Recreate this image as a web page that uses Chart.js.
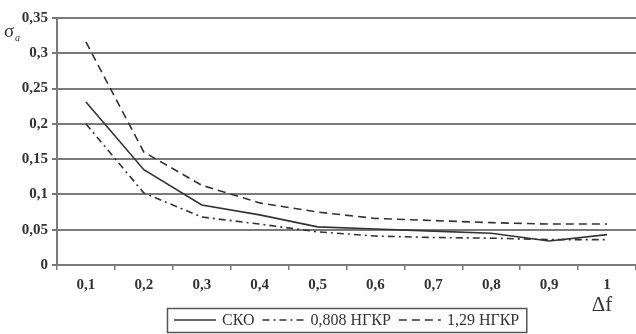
<!DOCTYPE html>
<html>
<head>
<meta charset="utf-8">
<script src="https://cdn.jsdelivr.net/npm/chart.js@4"></script>
<style>
  html, body { margin: 0; padding: 0; background: #fff; }
  canvas { display: block; }
</style>
</head>
<body>
<canvas id="sigmaChart" width="636" height="334"></canvas>
<script>
"use strict";

const labels = ["0,1", "0,2", "0,3", "0,4", "0,5", "0,6", "0,7", "0,8", "0,9", "1"];
const sko = [0.231, 0.135, 0.085, 0.071, 0.054, 0.051, 0.048, 0.045, 0.034, 0.043];
const ngkr808 = [0.200, 0.102, 0.068, 0.058, 0.047, 0.041, 0.039, 0.038, 0.036, 0.036];
const ngkr129 = [0.316, 0.160, 0.113, 0.088, 0.075, 0.066, 0.063, 0.060, 0.058, 0.058];
const seriesNames = ["СКО", "0,808 НГКР", "1,29 НГКР"];

const ink = "#333";
const gridGray = "#7a7a7a";
const tickFont = { family: "'Liberation Serif', 'DejaVu Serif', serif", size: 15, weight: "bold" };

// legend in a framed box under the axis, plus the σa and Δf axis captions
const extrasPlugin = {
  id: "extras",
  afterDraw(chart) {
    const ctx = chart.ctx;
    const area = chart.chartArea;
    ctx.save();

    ctx.fillStyle = ink;
    ctx.textBaseline = "alphabetic";
    ctx.font = "19px 'Liberation Serif', serif";
    ctx.fillText("σ", 4, 37);
    ctx.font = "italic 10px 'Liberation Serif', serif";
    ctx.fillText("a", 15, 41);
    ctx.font = "21px 'Liberation Serif', serif";
    ctx.textAlign = "center";
    ctx.fillText("Δf", 602, 311);

    ctx.font = "16px 'Liberation Serif', serif";
    ctx.textAlign = "left";
    ctx.textBaseline = "middle";
    const sample = 42, gap = 6, padX = 7;
    const sets = chart.data.datasets;
    let total = padX * 2;
    sets.forEach((ds, i) => {
      total += sample + gap + ctx.measureText(ds.label).width + (i < sets.length - 1 ? gap + 2 : 0);
    });
    const cx = (area.left + area.right) / 2;
    const left = Math.round(cx - total / 2);
    const top = 308, h = 24, midY = top + h / 2;
    ctx.strokeStyle = "#555";
    ctx.lineWidth = 1.5;
    ctx.setLineDash([]);
    ctx.strokeRect(left + 0.5, top + 0.5, total, h);

    let x = left + padX;
    sets.forEach((ds, i) => {
      ctx.strokeStyle = ds.borderColor;
      ctx.lineWidth = ds.borderWidth;
      ctx.setLineDash(ds.borderDash || []);
      ctx.beginPath();
      ctx.moveTo(x, midY);
      ctx.lineTo(x + sample, midY);
      ctx.stroke();
      x += sample + gap;
      ctx.fillStyle = ink;
      ctx.fillText(ds.label, x, midY + 1);
      x += ctx.measureText(ds.label).width + gap + 2;
    });
    ctx.restore();
  }
};

new Chart(document.getElementById("sigmaChart"), {
  type: "line",
  data: {
    labels,
    datasets: [
      { label: seriesNames[0], data: sko, borderColor: ink, borderWidth: 1.6, borderDash: [] },
      { label: seriesNames[1], data: ngkr808, borderColor: ink, borderWidth: 1.6, borderDash: [7, 4, 2, 4] },
      { label: seriesNames[2], data: ngkr129, borderColor: ink, borderWidth: 1.6, borderDash: [8, 5] },
    ],
  },
  options: {
    responsive: false,
    animation: false,
    layout: { padding: { top: 18, right: 0, left: 0, bottom: 0 } },
    elements: { point: { radius: 0 }, line: { tension: 0 } },
    plugins: { legend: { display: false }, tooltip: { enabled: false } },
    scales: {
      x: {
        type: "category",
        offset: true,
        grid: { offset: true, drawOnChartArea: false, drawTicks: true, tickLength: 5, color: gridGray, lineWidth: 1.5 },
        border: { display: true, color: gridGray, width: 2 },
        ticks: { font: tickFont, color: ink, padding: 6, maxRotation: 0 },
        afterFit(scale) { scale.height = 69; },
      },
      y: {
        min: 0,
        max: 0.35,
        grid: { color: gridGray, lineWidth: 2, tickLength: 5 },
        border: { display: true, color: gridGray, width: 2 },
        ticks: {
          stepSize: 0.05,
          font: tickFont,
          color: ink,
          padding: 4,
          callback: v => String(Number(v.toFixed(2))).replace(".", ","),
        },
        afterFit(scale) { scale.width = 57; },
      },
    },
  },
  plugins: [extrasPlugin],
});
</script>
</body>
</html>
